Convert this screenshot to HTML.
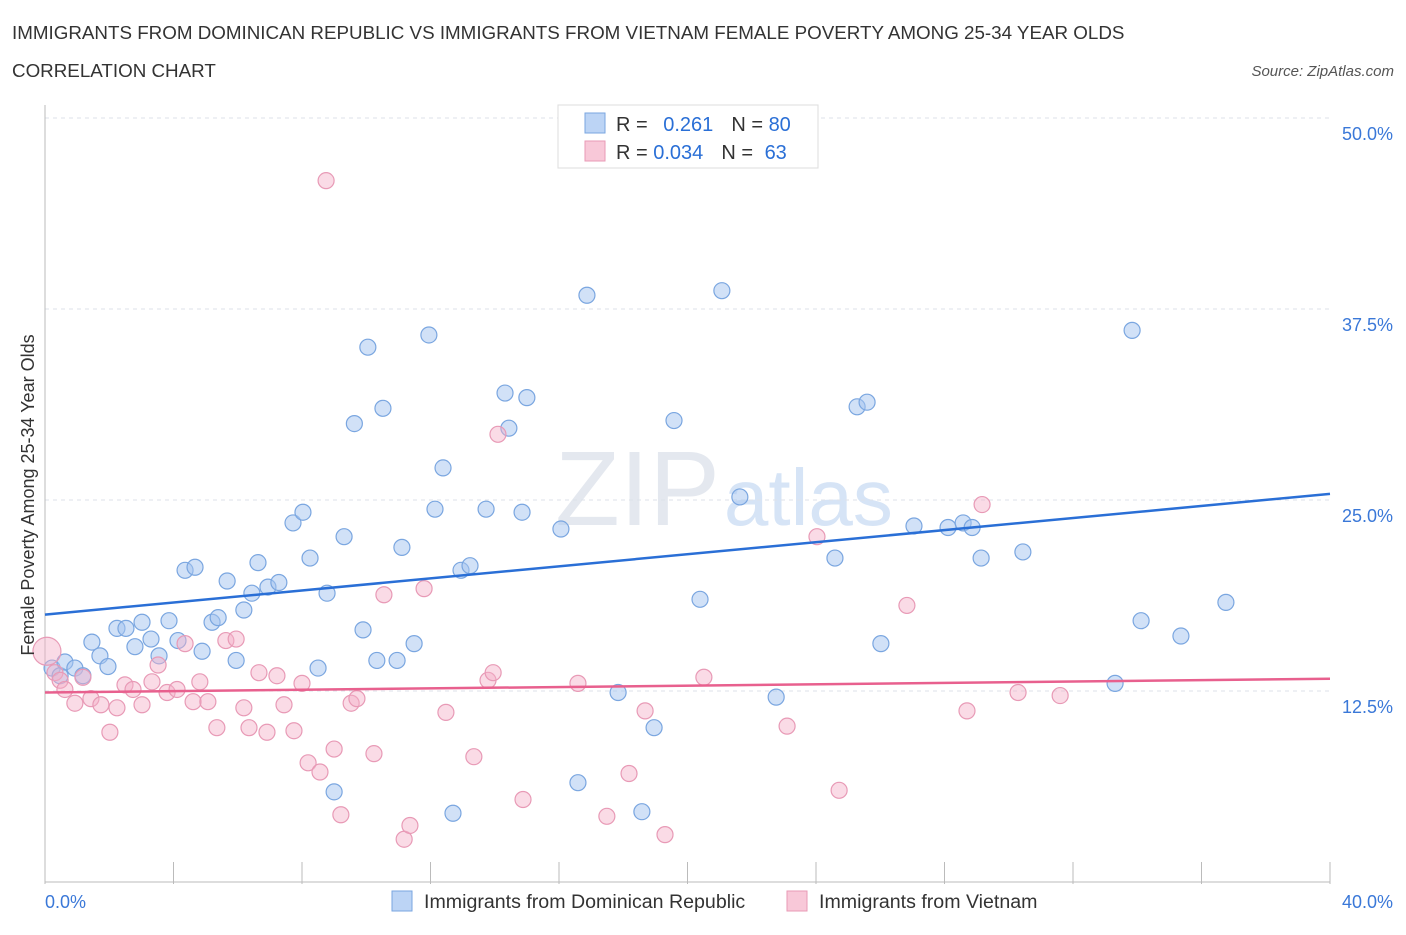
<!DOCTYPE html>
<html><head><meta charset="utf-8"><style>
body{margin:0;background:#fff;font-family:"Liberation Sans",sans-serif;}
svg text{font-family:"Liberation Sans",sans-serif;}
</style></head><body>
<svg id="chart" width="1406" height="930" viewBox="0 0 1406 930">
<text x="12" y="39" font-size="18.8" fill="#333">IMMIGRANTS FROM DOMINICAN REPUBLIC VS IMMIGRANTS FROM VIETNAM FEMALE POVERTY AMONG 25-34 YEAR OLDS</text>
<text x="12" y="77" font-size="18.8" fill="#333">CORRELATION CHART</text>
<text x="1394" y="76" font-size="15" fill="#555" font-style="italic" text-anchor="end">Source: ZipAtlas.com</text>
<text x="555" y="525" font-size="106" fill="#e4e8ef" font-family="Liberation Serif">ZIP<tspan fill="#d6e4f6" font-family="Liberation Sans" font-size="80" dx="4">atlas</tspan></text>
<g id="grid"></g>
<g id="axes"></g>
<g id="points"></g>
<g id="lines"></g>
<text transform="translate(34,495) rotate(-90)" font-size="18" fill="#333" text-anchor="middle">Female Poverty Among 25-34 Year Olds</text>
<text x="45" y="908" font-size="18" fill="#3a78d8">0.0%</text>
<text x="1393" y="908" font-size="18" fill="#3a78d8" text-anchor="end">40.0%</text>
<g>
<rect x="558" y="105" width="260" height="63" fill="#fff" stroke="#ddd"/>
<rect x="585" y="113" width="20" height="20" fill="#bcd4f5" stroke="#7aa6e0"/>
<text x="616" y="131" font-size="20" fill="#333">R = <tspan fill="#2a6fd6" dx="10">0.261</tspan><tspan dx="18" fill="#333">N = </tspan><tspan fill="#2a6fd6">80</tspan></text>
<rect x="585" y="141" width="20" height="20" fill="#f8c8d8" stroke="#e89ab6"/>
<text x="616" y="159" font-size="20" fill="#333">R = <tspan fill="#2a6fd6">0.034</tspan><tspan dx="18" fill="#333">N = </tspan><tspan fill="#2a6fd6" dx="6">63</tspan></text>
</g>
<g>
<rect x="392" y="891" width="20" height="20" fill="#bcd4f5" stroke="#7aa6e0"/>
<text x="424" y="908" font-size="19.6" fill="#333">Immigrants from Dominican Republic</text>
<rect x="787" y="891" width="20" height="20" fill="#f8c8d8" stroke="#e89ab6"/>
<text x="819" y="908" font-size="19.6" fill="#333">Immigrants from Vietnam</text>
</g>
</svg>
<script>
const yTicks=[12.5,25,37.5,50];
const yTickLabels=["12.5%","25.0%","37.5%","50.0%"];
const xTicks=[0,4,8,12,16,20,24,28,32,36,40];
const blueX=[0.22,0.47,0.62,0.93,1.18,1.46,1.71,1.96,2.24,2.52,2.80,3.02,3.30,3.55,3.86,4.14,4.36,4.67,4.89,5.20,5.39,5.67,5.95,6.19,6.44,6.63,6.94,7.28,7.72,8.03,8.25,8.50,8.78,9.00,9.31,9.63,9.90,10.05,10.33,10.52,10.96,11.11,11.49,11.95,12.14,12.39,12.70,12.95,13.23,13.73,14.32,14.44,14.85,15.00,16.06,16.59,16.87,17.84,18.58,18.96,19.58,20.39,21.07,21.63,22.76,24.59,25.28,25.59,26.02,27.05,28.11,28.58,28.86,29.14,30.44,33.31,33.84,34.12,35.36,36.76];
const blueY=[14.0,13.5,14.4,14.0,13.5,15.7,14.8,14.1,16.6,16.6,15.4,17.0,15.9,14.8,17.1,15.8,20.4,20.6,15.1,17.0,17.3,19.7,14.5,17.8,18.9,20.9,19.3,19.6,23.5,24.2,21.2,14.0,18.9,5.9,22.6,30.0,16.5,35.0,14.5,31.0,14.5,21.9,15.6,35.8,24.4,27.1,4.5,20.4,20.7,24.4,32.0,29.7,24.2,31.7,23.1,6.5,38.4,12.4,4.6,10.1,30.2,18.5,38.7,25.2,12.1,21.2,31.1,31.4,15.6,23.3,23.2,23.5,23.2,21.2,21.6,13.0,36.1,17.1,16.1,18.3];
const pinkX=[0.06,0.31,0.47,0.62,0.93,1.18,1.43,1.74,2.02,2.24,2.49,2.74,3.02,3.33,3.52,3.80,4.11,4.36,4.61,4.82,5.07,5.35,5.63,5.95,6.19,6.35,6.66,6.91,7.22,7.44,7.75,8.00,8.19,8.56,8.75,9.00,9.21,9.53,9.71,10.24,10.55,11.18,11.36,11.80,12.48,13.35,13.79,13.95,14.10,14.88,16.59,17.49,18.18,18.68,19.30,20.51,23.10,24.03,24.72,26.83,28.70,29.17,30.29,31.60];
const pinkY=[15.1,13.7,13.2,12.6,11.7,13.4,12.0,11.6,9.8,11.4,12.9,12.6,11.6,13.1,14.2,12.4,12.6,15.6,11.8,13.1,11.8,10.1,15.8,15.9,11.4,10.1,13.7,9.8,13.5,11.6,9.9,13.0,7.8,7.2,45.9,8.7,4.4,11.7,12.0,8.4,18.8,2.8,3.7,19.2,11.1,8.2,13.2,13.7,29.3,5.4,13.0,4.3,7.1,11.2,3.1,13.4,10.2,22.6,6.0,18.1,11.2,24.7,12.4,12.2];
const blueTrend=[17.5,25.4];
const pinkTrend=[12.4,13.3];
const NS='http://www.w3.org/2000/svg';
const X0=45,X1=1330,Y0=882,YTOP=118;
function sx(v){return X0+(X1-X0)*v/40;}
function sy(v){return Y0-(Y0-YTOP)*v/50;}
function mk(tag,attrs,parent){const e=document.createElementNS(NS,tag);for(const k in attrs)e.setAttribute(k,attrs[k]);document.getElementById(parent).appendChild(e);return e;}
yTicks.forEach((t,i)=>{
 const g=mk('line',{x1:X0,x2:X1,y1:sy(t),y2:sy(t),stroke:'#dde2ea','stroke-dasharray':'4,4'},'grid');
 
 
 const l=mk('text',{x:1393,y:sy(t)+22,'font-size':18,fill:'#3a78d8','text-anchor':'end'},'grid');
 l.textContent=yTickLabels[i];
 
 
});
const ax=mk('line',{x1:X0,x2:X1,y1:Y0,y2:Y0,stroke:'#bbb'},'axes');


const ay=mk('line',{x1:X0,x2:X0,y1:105,y2:Y0,stroke:'#bbb'},'axes');


xTicks.forEach(t=>{
 const e=mk('line',{x1:sx(t),x2:sx(t),y1:862,y2:884,stroke:'#bbb'},'axes');
 
 
});
blueX.forEach((x,i)=>{
 const c=mk('circle',{cx:sx(x),cy:sy(blueY[i]),r:8,fill:'rgba(164,196,240,0.5)',stroke:'#7aa6e0','stroke-width':1.2},'points');
 
 
});
pinkX.forEach((x,i)=>{
 const c=mk('circle',{cx:sx(x),cy:sy(pinkY[i]),r:i===0?14:8,fill:'rgba(244,176,200,0.45)',stroke:'#e89ab6','stroke-width':1.2},'points');
 
 
});
const bl=mk('line',{x1:sx(0),x2:sx(40),y1:sy(blueTrend[0]),y2:sy(blueTrend[1]),stroke:'#2a6fd6','stroke-width':2.5},'lines');


const pl=mk('line',{x1:sx(0),x2:sx(40),y1:sy(pinkTrend[0]),y2:sy(pinkTrend[1]),stroke:'#e8608e','stroke-width':2.5},'lines');


</script>
</body></html>
